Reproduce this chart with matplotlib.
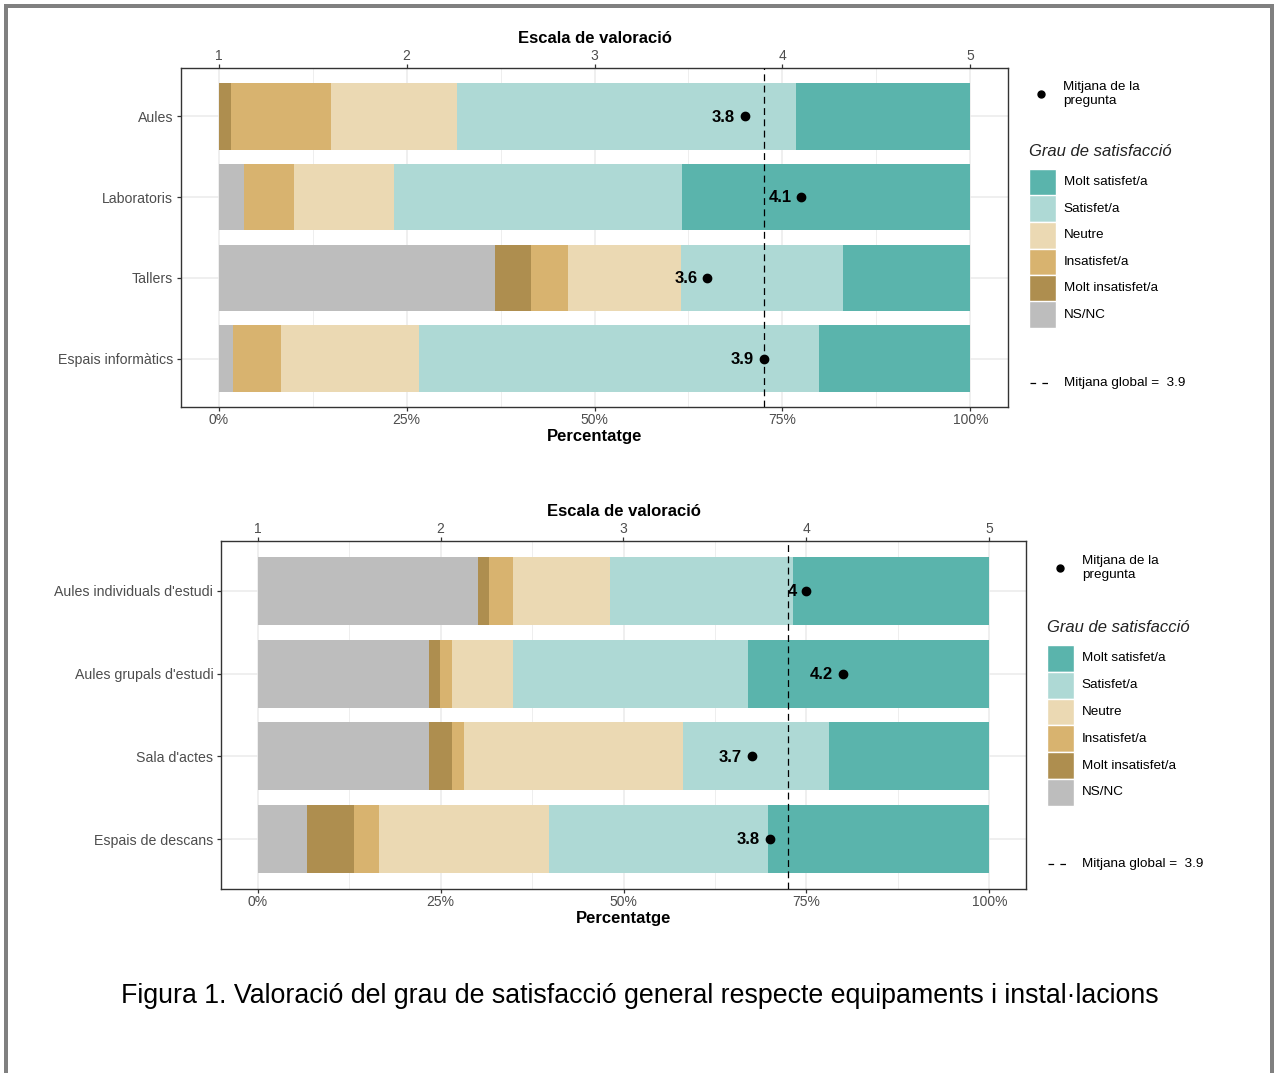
import matplotlib
matplotlib.use('Agg')
import matplotlib.pyplot as plt
import numpy as np
from matplotlib.patches import Rectangle
from matplotlib.lines import Line2D

plt.rcParams['font.family'] = ['Liberation Sans', 'DejaVu Sans']

W, H = 1274, 1073

# ---------------- data ----------------
levels = ['NS/NC', 'Molt insatisfet/a', 'Insatisfet/a', 'Neutre', 'Satisfet/a', 'Molt satisfet/a']
colors = ['#BDBDBD', '#AE8E4F', '#D8B36F', '#EBD9B3', '#AED9D5', '#5AB4AC']

cats1 = ['Aules', 'Laboratoris', 'Tallers', 'Espais informàtics']
ns1 = [0.0, 3.4, 36.7, 1.9]
mi1 = [1.7, 0.0, 4.9, 0.0]
in1 = [13.3, 6.6, 4.9, 6.4]
ne1 = [16.7, 13.3, 15.0, 18.3]
sa1 = [45.1, 38.3, 21.6, 53.3]
ms1 = [23.2, 38.4, 16.9, 20.1]
mean1 = [3.8, 4.1, 3.6, 3.9]

cats2 = ["Aules individuals d'estudi", "Aules grupals d'estudi", "Sala d'actes", "Espais de descans"]
ns2 = [30.1, 23.4, 23.4, 6.7]
mi2 = [1.5, 1.5, 3.1, 6.5]
in2 = [3.3, 1.6, 1.7, 3.4]
ne2 = [13.2, 8.4, 29.9, 23.2]
sa2 = [25.1, 32.1, 20.0, 30.0]
ms2 = [26.8, 33.0, 21.9, 30.2]
mean2 = [4.0, 4.2, 3.7, 3.8]

global_mean = 3.9
pct_ticks = [0, 25, 50, 75, 100]
pct_labels = ['0%', '25%', '50%', '75%', '100%']
scale_ticks = [1, 2, 3, 4, 5]
caption = 'Figura 1. Valoració del grau de satisfacció general respecte equipaments i instal·lacions'

# ---------------- figure ----------------
fig = plt.figure(figsize=(W / 100, H / 100), dpi=100)
fig.patch.set_facecolor('white')

GRID = '#EBEBEB'
DARK = '#333333'
TICKC = '#4D4D4D'


def fx(x):
    return x / W


def fy(y):
    return 1 - y / H


def panel(rect, cats, segs, means, leg):
    l, t, r, b = rect
    ax = fig.add_axes([fx(l), fy(b), (r - l) / W, (b - t) / H])
    n = len(cats)
    y = np.arange(n)[::-1] + 1.0
    left = np.zeros(n)
    for vals, c in zip(segs, colors):
        vals = np.array(vals)
        ax.barh(y, vals, left=left, height=0.82, color=c, linewidth=0, zorder=2)
        left += vals
    ax.set_xlim(-5, 105)
    ax.set_ylim(0.4, n + 0.6)
    ax.set_yticks(y)
    ax.set_yticklabels(cats)
    ax.set_xticks(pct_ticks)
    ax.set_xticklabels(pct_labels)
    ax.set_xticks([12.5, 37.5, 62.5, 87.5], minor=True)
    ax.set_axisbelow(True)
    ax.grid(which='major', color=GRID, lw=1.1, zorder=0)
    ax.grid(which='minor', axis='x', color=GRID, lw=0.6, zorder=0)
    ax.tick_params(axis='y', which='major', length=3, width=0.9, color=DARK,
                   labelsize=10.2, labelcolor=TICKC, pad=2.5)
    ax.tick_params(axis='x', which='major', length=3, width=0.9, color=DARK,
                   labelsize=10, labelcolor=TICKC, pad=1.2)
    ax.tick_params(which='minor', length=0)
    for s in ax.spines.values():
        s.set_color(DARK)
        s.set_linewidth(1.0)
    ax.set_xlabel('Percentatge', fontsize=12, fontweight='bold', labelpad=1.5)

    ax2 = ax.twiny()
    ax2.set_xlim(0.8, 5.2)
    ax2.set_ylim(ax.get_ylim())
    ax2.set_xticks(scale_ticks)
    ax2.set_xticklabels([str(v) for v in scale_ticks])
    ax2.tick_params(length=3, width=0.9, color=DARK, labelsize=10,
                    labelcolor=TICKC, pad=0.8)
    for s in ax2.spines.values():
        s.set_visible(False)
    ax2.set_xlabel('Escala de valoració', fontsize=12, fontweight='bold', labelpad=4)
    ax2.axvline(global_mean, color='black', ls=(0, (5.5, 3.5)), lw=0.9, zorder=4)
    ax2.plot(means, y, 'o', color='black', ms=6, zorder=5)
    for m, yy in zip(means, y):
        ax2.annotate(f'{m:g}', (m, yy), xytext=(-7, -0.5), textcoords='offset points',
                     ha='right', va='center', fontsize=12, fontweight='bold', zorder=6)

    # legend (drawn in figure pixel coordinates)
    x0, dot_x, dot_y, title_y, sq_top, sq_size, dash_y = leg
    fig.add_artist(Line2D([fx(dot_x)], [fy(dot_y)], marker='o', color='black', ms=5,
                          transform=fig.transFigure))
    fig.text(fx(dot_x + 22), fy(dot_y), 'Mitjana de la\npregunta', fontsize=9.7,
             ha='left', va='center', linespacing=1.25)
    fig.text(fx(x0), fy(title_y), 'Grau de satisfacció', fontsize=12, style='italic',
             ha='left', va='center', color='#222222')
    order = list(range(len(levels)))[::-1]
    for k, i in enumerate(order):
        top = sq_top + k * sq_size
        fig.add_artist(Rectangle((fx(x0), fy(top + sq_size)), sq_size / W, sq_size / H,
                                 facecolor=colors[i], edgecolor='white', lw=1,
                                 transform=fig.transFigure))
        fig.text(fx(x0 + sq_size + 8), fy(top + sq_size / 2), levels[i], fontsize=9.7,
                 ha='left', va='center')
    fig.add_artist(Line2D([fx(x0 + 1), fx(x0 + 22)], [fy(dash_y), fy(dash_y)], color='black',
                          lw=0.9, ls=(0, (4.5, 5)), transform=fig.transFigure))
    fig.text(fx(x0 + sq_size + 8), fy(dash_y), f'Mitjana global =  {global_mean:g}',
             fontsize=9.7, ha='left', va='center')
    return ax


panel((181, 68, 1008, 407), cats1, [ns1, mi1, in1, ne1, sa1, ms1], mean1,
      (1029, 1041, 94, 152, 169, 26.5, 383))
panel((221, 541, 1026, 889), cats2, [ns2, mi2, in2, ne2, sa2, ms2], mean2,
      (1047, 1060, 568, 628, 645, 26.8, 864))

fig.text(fx(640), fy(996), caption, fontsize=19.3, ha='center', va='center', color='black')

# page frame
FR = '#808080'
fig.add_artist(Rectangle((fx(4), fy(8)), (W - 4) / W, 4 / H, facecolor=FR, edgecolor='none',
                         transform=fig.transFigure))
fig.add_artist(Rectangle((fx(4), 0), 4 / W, fy(4), facecolor=FR, edgecolor='none',
                         transform=fig.transFigure))
fig.add_artist(Rectangle((fx(1270), 0), 4 / W, fy(4), facecolor=FR, edgecolor='none',
                         transform=fig.transFigure))

fig.savefig('out.png', dpi=100, facecolor='white')
